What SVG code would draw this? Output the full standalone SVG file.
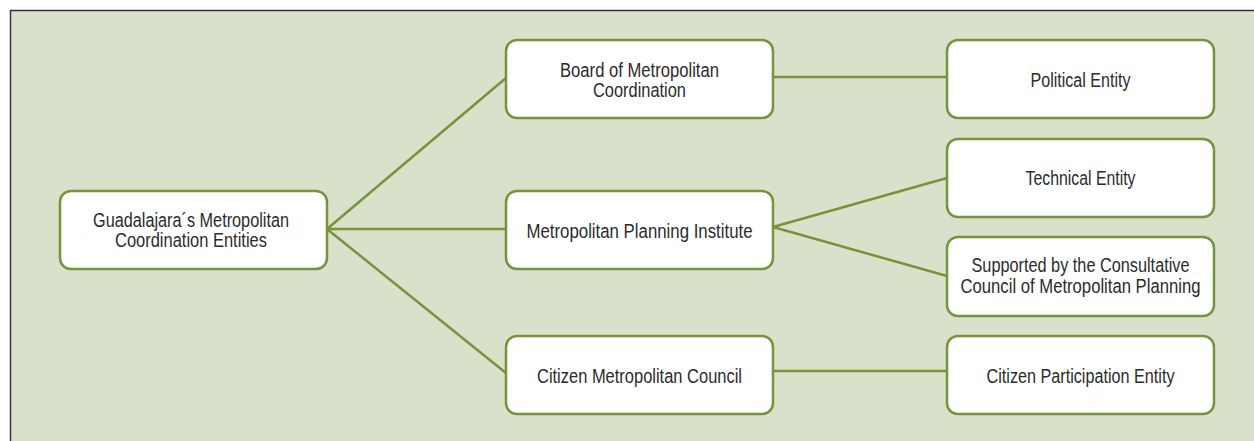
<svg xmlns="http://www.w3.org/2000/svg" width="1254" height="441" viewBox="0 0 1254 441">
<style>
.node rect{fill:#ffffff;stroke:#77933c;stroke-width:2.5}
.node text{font-family:"Liberation Sans",Arial,sans-serif;font-size:20px;fill:#2b2b2b;text-anchor:middle}
.conn line{stroke:#77933c;stroke-width:2.5;stroke-linecap:round}
</style>
<rect x="0" y="0" width="1254" height="441" fill="#ffffff"/>
<rect x="10" y="10" width="1250" height="440" fill="#d9e1cb"/>
<path d="M10.5 441 V10.5 H1254" fill="none" stroke="#333333" stroke-width="1.5"/>
<g id="connectors" class="conn">
<line x1="327" y1="229" x2="506" y2="78"/>
<line x1="327" y1="229" x2="506" y2="229"/>
<line x1="327" y1="229" x2="506" y2="373"/>
<line x1="773" y1="77" x2="947" y2="77"/>
<line x1="773" y1="227" x2="947" y2="178"/>
<line x1="773" y1="227" x2="947" y2="276"/>
<line x1="773" y1="371" x2="947" y2="371"/>
</g>
<g id="root" class="node">
<rect x="60" y="191" width="267" height="78" rx="11"/>
<text x="191" y="226.5" textLength="196" lengthAdjust="spacingAndGlyphs">Guadalajara´s Metropolitan</text>
<text x="191" y="246.5" textLength="152" lengthAdjust="spacingAndGlyphs">Coordination Entities</text>
</g>
<g id="board" class="node">
<rect x="506" y="40" width="267" height="78" rx="11"/>
<text x="639.5" y="76.5" textLength="159" lengthAdjust="spacingAndGlyphs">Board of Metropolitan</text>
<text x="639.5" y="96.5" textLength="93" lengthAdjust="spacingAndGlyphs">Coordination</text>
</g>
<g id="institute" class="node">
<rect x="506" y="191" width="267" height="78" rx="11"/>
<text x="639.5" y="238" textLength="226" lengthAdjust="spacingAndGlyphs">Metropolitan Planning Institute</text>
</g>
<g id="council" class="node">
<rect x="506" y="336" width="267" height="78" rx="11"/>
<text x="639.5" y="383" textLength="205" lengthAdjust="spacingAndGlyphs">Citizen Metropolitan Council</text>
</g>
<g id="political" class="node">
<rect x="947" y="40" width="267" height="78" rx="11"/>
<text x="1080.5" y="86.5" textLength="100" lengthAdjust="spacingAndGlyphs">Political Entity</text>
</g>
<g id="technical" class="node">
<rect x="947" y="139" width="267" height="78" rx="11"/>
<text x="1080.5" y="185" textLength="110" lengthAdjust="spacingAndGlyphs">Technical Entity</text>
</g>
<g id="supported" class="node">
<rect x="947" y="237" width="267" height="79" rx="11"/>
<text x="1080.5" y="271.5" textLength="218" lengthAdjust="spacingAndGlyphs">Supported by the Consultative</text>
<text x="1080.5" y="292.5" textLength="240" lengthAdjust="spacingAndGlyphs">Council of Metropolitan Planning</text>
</g>
<g id="participation" class="node">
<rect x="947" y="336" width="267" height="78" rx="11"/>
<text x="1080.5" y="383" textLength="188" lengthAdjust="spacingAndGlyphs">Citizen Participation Entity</text>
</g>
</svg>
